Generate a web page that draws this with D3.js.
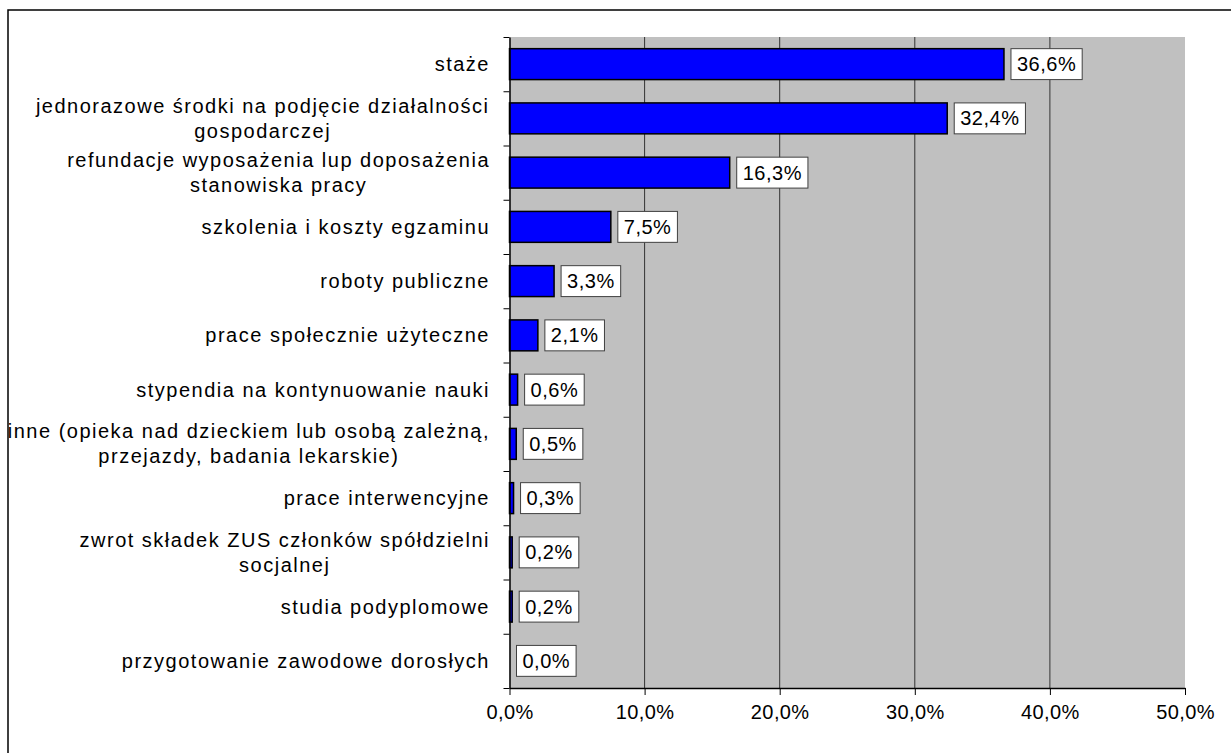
<!DOCTYPE html>
<html>
<head>
<meta charset="utf-8">
<script src="https://cdn.jsdelivr.net/npm/d3@7"></script>
<style>
  body { margin: 0; background: #fff; }
  text { font-family: "Liberation Sans", Arial, sans-serif; }
</style>
</head>
<body>
<div id="chart"></div>
<script>
// categories (| marks a line break in the label)
var categories = [
  "staże",
  "jednorazowe środki na podjęcie działalności|gospodarczej",
  "refundacje wyposażenia lup doposażenia|stanowiska pracy",
  "szkolenia i koszty egzaminu",
  "roboty publiczne",
  "prace społecznie użyteczne",
  "stypendia na kontynuowanie nauki",
  "inne (opieka nad dzieckiem lub osobą zależną,|przejazdy, badania lekarskie)",
  "prace interwencyjne",
  "zwrot składek ZUS członków spółdzielni|socjalnej",
  "studia podyplomowe",
  "przygotowanie zawodowe dorosłych"
];
var values = [36.6, 32.4, 16.3, 7.5, 3.3, 2.1, 0.6, 0.5, 0.3, 0.2, 0.2, 0.0];
var xTicks = [0, 10, 20, 30, 40, 50];

var W = 1231, H = 753;
// note: "top" is a reserved window prop, so use pTop/pBottom
var pLeft = 509.5, pRight = 1185, pTop = 37, pBottom = 688;

var fmt = function(v) { return v.toFixed(1).replace(".", ",") + "%"; };

var svg = d3.select("#chart")
  .append("svg")
    .attr("width", W)
    .attr("height", H);

// outer frame
svg.append("rect")
  .attr("x", 8).attr("y", 10)
  .attr("width", 1400).attr("height", 900)
  .attr("fill", "none")
  .attr("stroke", "#000")
  .attr("stroke-width", 1.5);

var x = d3.scaleLinear().domain([0, 50]).range([pLeft, pRight]);
var y = d3.scaleBand()
  .domain(categories)
  .range([pTop, pBottom])
  .paddingInner(0.43)
  .paddingOuter(0.215);
var yIdx = d3.scaleLinear().domain([0, categories.length]).range([pTop, pBottom]);

// plot background
svg.append("rect")
  .attr("x", pLeft).attr("y", pTop)
  .attr("width", pRight - pLeft).attr("height", pBottom - pTop)
  .attr("fill", "#c0c0c0");

// gridlines
svg.selectAll(".grid")
  .data(xTicks.filter(function(t) { return t > 0 && t < 50; }))
  .enter().append("line")
    .attr("x1", function(d) { return x(d); })
    .attr("x2", function(d) { return x(d); })
    .attr("y1", pTop).attr("y2", pBottom)
    .attr("stroke", "#333")
    .attr("stroke-width", 1);

// bars
svg.selectAll(".bar")
  .data(values)
  .enter().append("rect")
    .attr("x", x(0))
    .attr("y", function(d, i) { return y(categories[i]); })
    .attr("width", function(d) { return x(d) - x(0); })
    .attr("height", y.bandwidth())
    .attr("fill", "#0000ff")
    .attr("stroke", "#000")
    .attr("stroke-width", 1.5);

// x axis
var xAxis = svg.append("g")
  .attr("transform", "translate(0," + pBottom + ")")
  .call(d3.axisBottom(x).tickValues(xTicks).tickSize(7).tickSizeOuter(0).tickFormat(fmt));
xAxis.select(".domain").attr("stroke", "#000").attr("stroke-width", 1.5);
xAxis.selectAll(".tick line").attr("stroke", "#000");
xAxis.selectAll(".tick text")
  .attr("y", 17)
  .attr("fill", "#000")
  .style("font-size", "20px")
  .style("letter-spacing", "0.4px");

// y axis (ticks between categories)
var yAxis = svg.append("g")
  .attr("transform", "translate(" + pLeft + ",0)")
  .call(d3.axisLeft(yIdx).tickValues(d3.range(categories.length + 1)).tickSize(6).tickSizeOuter(0).tickFormat(""));
yAxis.select(".domain").attr("stroke", "#000").attr("stroke-width", 1.5);
yAxis.selectAll(".tick line").attr("stroke", "#000");

// category labels
var labelRight = 490, lineH = 25;
categories.forEach(function(c, i) {
  var lines = c.split("|");
  var cy = y(c) + y.bandwidth() / 2;
  var t = svg.append("text")
    .attr("text-anchor", "middle")
    .attr("fill", "#000")
    .style("font-size", "20px")
    .style("letter-spacing", "1.5px");
  lines.forEach(function(l, k) {
    t.append("tspan")
      .attr("x", 0)
      .attr("y", cy + (k - (lines.length - 1) / 2) * lineH)
      .attr("dy", "0.35em")
      .text(l);
  });
  var w = t.node().getBBox().width;
  t.selectAll("tspan").attr("x", labelRight - w / 2);
});

// value labels in boxes
values.forEach(function(v, i) {
  var by = y(categories[i]);
  var g = svg.append("g");
  var box = g.append("rect");
  var tx = g.append("text")
    .attr("y", by + y.bandwidth() / 2)
    .attr("dy", "0.35em")
    .attr("text-anchor", "middle")
    .attr("fill", "#000")
    .style("font-size", "20px")
    .style("letter-spacing", "0.5px")
    .text(fmt(v));
  var tw = tx.node().getBBox().width;
  var bx = x(v) + 7;
  box.attr("x", bx).attr("y", by)
    .attr("width", tw + 12).attr("height", y.bandwidth())
    .attr("fill", "#fff")
    .attr("stroke", "#404040")
    .attr("stroke-width", 1);
  tx.attr("x", bx + (tw + 12) / 2);
});
</script>
</body>
</html>
